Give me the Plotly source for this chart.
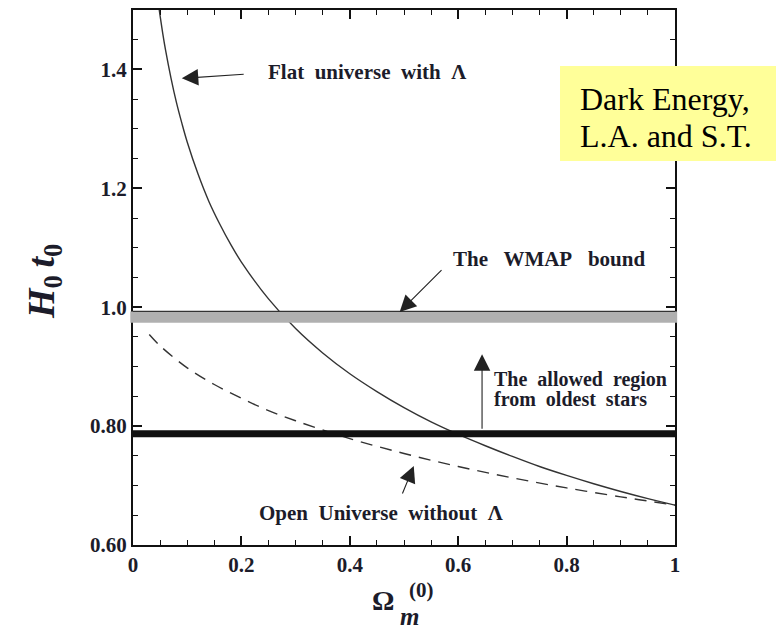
import plotly.graph_objects as go

# Flat universe with Lambda (solid curve)
flat_om = [0.048, 0.05, 0.055, 0.06, 0.07, 0.08, 0.09, 0.10, 0.12, 0.14, 0.16, 0.18, 0.20,
           0.25, 0.30, 0.35, 0.40, 0.45, 0.50, 0.55, 0.60, 0.65, 0.70, 0.75, 0.80, 0.85,
           0.90, 0.95, 1.00]
flat_h0t0 = [1.503, 1.490, 1.460, 1.433, 1.386, 1.345, 1.310, 1.278, 1.224, 1.178, 1.140,
             1.106, 1.076, 1.014, 0.964, 0.923, 0.888, 0.858, 0.831, 0.807, 0.786, 0.767,
             0.749, 0.732, 0.717, 0.703, 0.690, 0.678, 0.667]

# Open universe without Lambda (dashed curve)
open_om = [0.03, 0.05, 0.10, 0.15, 0.20, 0.25, 0.30, 0.40, 0.50, 0.60, 0.70, 0.80, 0.90,
           0.95, 1.00]
open_h0t0 = [0.954, 0.935, 0.898, 0.870, 0.847, 0.826, 0.809, 0.779, 0.754, 0.732, 0.713,
             0.696, 0.681, 0.674, 0.667]

# Horizontal bounds
wmap_low, wmap_high = 0.974, 0.993
stars_bound = 0.787

x_tickvals = [0, 0.2, 0.4, 0.6, 0.8, 1.0]
x_ticktext = ["0", "0.2", "0.4", "0.6", "0.8", "1"]
y_tickvals = [0.6, 0.8, 1.0, 1.2, 1.4]
y_ticktext = ["0.60", "0.80", "1.0", "1.2", "1.4"]

SERIF = "Liberation Serif"
TXT = "#1c1c2a"
NB2 = "\u00a0 "
NB3 = "\u00a0\u00a0 "

fig = go.Figure()
fig.add_trace(go.Scatter(x=flat_om, y=flat_h0t0, mode="lines",
                         line=dict(color="#333333", width=1.4, shape="spline"),
                         showlegend=False, hoverinfo="skip"))
fig.add_trace(go.Scatter(x=open_om, y=open_h0t0, mode="lines",
                         line=dict(color="#333333", width=1.4, shape="spline", dash="12px,8px"),
                         showlegend=False, hoverinfo="skip"))

# WMAP band
fig.add_shape(type="rect", xref="paper", yref="y", x0=-0.005, x1=1.004,
              y0=wmap_low, y1=wmap_high, fillcolor="#b0b0b0", line=dict(width=0), layer="above")
fig.add_shape(type="line", xref="paper", yref="y", x0=0, x1=1,
              y0=wmap_high, y1=wmap_high, line=dict(color="#333333", width=1.2), layer="above")
# Oldest stars bound
fig.add_shape(type="line", xref="paper", yref="y", x0=0, x1=1,
              y0=stars_bound, y1=stars_bound, line=dict(color="#111111", width=7), layer="above")

ann_font = dict(family=SERIF, size=21, color=TXT, weight="bold")
ann_font_s = dict(family=SERIF, size=20, color=TXT, weight="bold")
annotations = []

def arrow(x_tip, y_tip, x_tail, y_tail):
    annotations.append(dict(x=x_tip, y=y_tip, ax=x_tail, ay=y_tail, xref="x", yref="y",
                            axref="x", ayref="y", text="", showarrow=True, arrowhead=2,
                            arrowsize=3.0, arrowwidth=1.1, arrowcolor="#222222"))

arrow(0.090, 1.385, 0.207, 1.392)
arrow(0.492, 0.992, 0.572, 1.065)
arrow(0.644, 0.921, 0.644, 0.793)
arrow(0.518, 0.733, 0.496, 0.684)

texts = [
    dict(x=0.432, y=1.395, text=NB2.join(["Flat", "universe", "with", "\u039b"]), font=ann_font),
    dict(x=0.7675, y=1.0813, text=NB3.join(["The", "WMAP", "bound"]), font=ann_font),
    dict(x=0.662, y=0.878, text=NB2.join(["The", "allowed", "region"]), font=ann_font_s, xanchor="left"),
    dict(x=0.662, y=0.846, text=NB2.join(["from", "oldest", "stars"]), font=ann_font_s, xanchor="left"),
    dict(x=0.4576, y=0.6537, text=NB2.join(["Open", "Universe", "without", "\u039b"]), font=ann_font),
]
for a in texts:
    a.update(xref="x", yref="y", showarrow=False)
annotations += texts

def px_x(p):
    return (p - 133) / 542

def px_y(p):
    return (545 - p) / 537

# Axis titles
annotations += [
    dict(xref="paper", yref="paper", x=px_x(18), y=px_y(281),
         text="<b><i>H</i></b><sub><b>0</b></sub><b><i>\u2009t</i></b><sub><b>0</b></sub>",
         textangle=-90, showarrow=False, font=dict(family=SERIF, size=38, color=TXT)),
    dict(xref="paper", yref="paper", x=px_x(383), y=px_y(618),
         text="<b>\u03a9</b>", showarrow=False, font=dict(family=SERIF, size=28, color=TXT)),
    dict(xref="paper", yref="paper", x=px_x(421), y=px_y(604),
         text="<b>(0)</b>", showarrow=False, font=dict(family=SERIF, size=21, color=TXT)),
    dict(xref="paper", yref="paper", x=px_x(409), y=px_y(632),
         text="<b><i>m</i></b>", showarrow=False, font=dict(family=SERIF, size=25, color=TXT)),
]

# Yellow label box
annotations += [
    dict(xref="paper", yref="paper", x=px_x(560), y=px_y(64),
         xanchor="left", yanchor="top", text=" ", showarrow=False, width=216, height=95,
         bgcolor="#ffff99", borderpad=0, borderwidth=0),
    dict(xref="paper", yref="paper", x=px_x(578), y=px_y(97),
         xanchor="left", yanchor="middle", align="left", showarrow=False,
         text="Dark Energy,", font=dict(family=SERIF, size=32, color="#000000")),
    dict(xref="paper", yref="paper", x=px_x(578), y=px_y(134),
         xanchor="left", yanchor="middle", align="left", showarrow=False,
         text="L.A. and S.T.", font=dict(family=SERIF, size=32, color="#000000")),
]

axis_common = dict(ticks="inside", ticklen=9, tickwidth=1.5, tickcolor="#111111",
                   showline=True, linewidth=2, linecolor="#111111", mirror="ticks",
                   showgrid=False, zeroline=False,
                   tickfont=dict(family=SERIF, size=21, color=TXT, weight="bold"),
                   minor=dict(dtick=0.05, ticks="inside", ticklen=5, tickwidth=1.2,
                              tickcolor="#111111", showgrid=False))

fig.update_layout(
    width=776, height=627,
    margin=dict(l=133, r=101, t=8, b=82),
    paper_bgcolor="white", plot_bgcolor="white",
    xaxis=dict(range=[0, 1], tickvals=x_tickvals, ticktext=x_ticktext, **axis_common),
    yaxis=dict(range=[0.6, 1.5], tickvals=y_tickvals, ticktext=y_ticktext, **axis_common),
    annotations=annotations,
    showlegend=False,
)

fig.write_html("out.html")
